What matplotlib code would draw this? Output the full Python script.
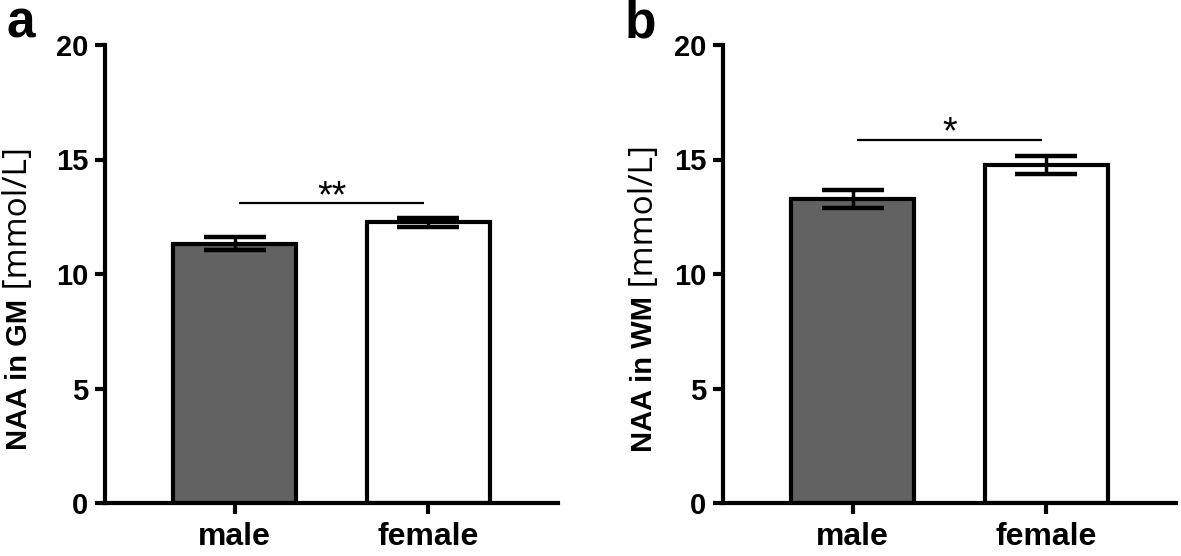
import matplotlib
matplotlib.use("Agg")
import matplotlib.pyplot as plt
import numpy as np

plt.rcParams['font.family'] = ['Liberation Sans', 'DejaVu Sans']

categories = ["male", "female"]
gm_means = [11.33, 12.25]
gm_sem = [0.27, 0.19]
wm_means = [13.27, 14.75]
wm_sem = [0.40, 0.40]
bar_colors = ["#626262", "#ffffff"]
yticks = [0, 5, 10, 15, 20]
panels = [
    dict(letter="a", means=gm_means, sem=gm_sem, bold="NAA in GM", unit="[mmol/L]",
         sig="**", sig_y=13.08),
    dict(letter="b", means=wm_means, sem=wm_sem, bold="NAA in WM", unit="[mmol/L]",
         sig="*", sig_y=15.85),
]

W, H = 1181, 556
fig = plt.figure(figsize=(W / 100, H / 100), dpi=100)

lefts = [105, 723]
label_offsets = [86, 79]
ax_w = 453
bottom_px, top_px = 503, 45

for p, left, loff in zip(panels, lefts, label_offsets):
    ax = fig.add_axes([left / W, (H - bottom_px) / H, ax_w / W, (bottom_px - top_px) / H])
    x = np.arange(len(categories))
    ax.bar(x, p["means"], width=0.635, color=bar_colors, edgecolor="black",
           linewidth=3, zorder=2)
    ax.errorbar(x, p["means"], yerr=p["sem"], fmt="none", ecolor="black",
                elinewidth=2.5, capsize=22, capthick=3.2, zorder=3)
    ax.set_xlim(-0.67, 1.67)
    ax.set_ylim(0, 20)
    ax.set_yticks(yticks)
    ax.set_xticks(x)
    ax.set_xticklabels(categories, fontsize=23, fontweight="bold")
    for lab in ax.get_yticklabels():
        lab.set_fontsize(21)
        lab.set_fontweight("bold")
    ax.spines["top"].set_visible(False)
    ax.spines["right"].set_visible(False)
    for s in ("left", "bottom"):
        ax.spines[s].set_linewidth(3)
    ax.tick_params(axis="y", length=7, width=3, pad=5)
    ax.tick_params(axis="x", length=8, width=3, pad=6)
    # significance bracket
    ax.plot([0.02, 0.98], [p["sig_y"], p["sig_y"]], color="black", lw=1.6,
            solid_capstyle="butt", zorder=3)
    ax.annotate(p["sig"], xy=(0.5, p["sig_y"]), xytext=(0, -2.5),
                textcoords="offset points", ha="center", va="baseline",
                fontsize=27, color="black")
    # y label: bold part + regular unit
    xl = (left - loff) / W
    t1 = fig.text(xl, (H - 374) / H, p["bold"], rotation=90, fontsize=21,
                  fontweight="bold", ha="center", va="center")
    ax.annotate(" " + p["unit"], xy=(0.5, 1.0), xycoords=t1, rotation=90,
                ha="center", va="bottom", fontsize=24, fontweight="normal",
                family=["Open Sans", "DejaVu Sans"])
    fig.text((left - 98) / W, (H - 38) / H, p["letter"], fontsize=37,
             fontweight="bold", ha="left", va="baseline")

fig.savefig("out.png", dpi=100)
